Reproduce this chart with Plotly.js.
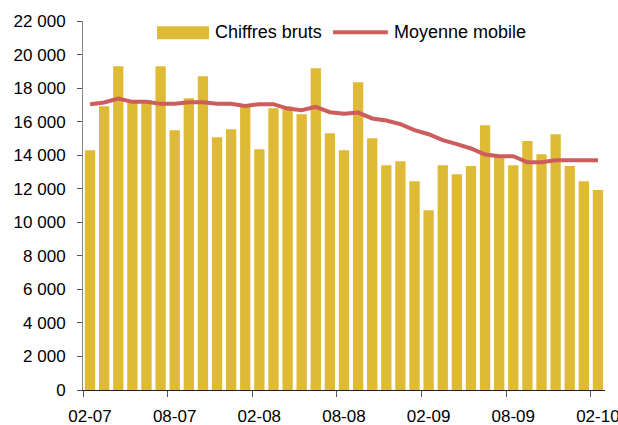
<!DOCTYPE html>
<html>
<head>
<meta charset="utf-8">
<script src="https://cdn.plot.ly/plotly-3.0.1.min.js"></script>
<style>
html,body{margin:0;padding:0;background:#fff;}
#chart{width:618px;height:425px;}
</style>
</head>
<body>
<div id="chart"></div>
<script>
var months = ["02-07","03-07","04-07","05-07","06-07","07-07","08-07","09-07","10-07","11-07","12-07","01-08",
              "02-08","03-08","04-08","05-08","06-08","07-08","08-08","09-08","10-08","11-08","12-08","01-09",
              "02-09","03-09","04-09","05-09","06-09","07-09","08-09","09-09","10-09","11-09","12-09","01-10","02-10"];
var chiffresBruts = [14300,16920,19300,17280,17280,19300,15490,17400,18710,15070,
                     15550,16920,14360,16800,16920,16440,19180,15310,14300,18350,
                     15010,13400,13640,12450,10720,13400,12870,13350,15790,13900,
                     13400,14840,14060,15250,13350,12450,11920];
var moyenneMobile = [17040,17140,17380,17180,17180,17060,17060,17160,17160,17060,
                     17060,16940,17040,17040,16780,16680,16880,16560,16470,16540,
                     16190,16070,15850,15490,15250,14900,14660,14400,14040,13940,
                     13940,13580,13580,13700,13700,13700,13700];
var xTickLabels = ["02-07","08-07","02-08","08-08","02-09","08-09","02-10"];
var yTickVals = [0,2000,4000,6000,8000,10000,12000,14000,16000,18000,20000,22000];
var yTickText = ["0","2 000","4 000","6 000","8 000","10 000","12 000","14 000","16 000","18 000","20 000","22 000"];
var seriesNames = ["Chiffres bruts","Moyenne mobile"];

var idx = months.map(function(m,i){return i;});
var xTickVals = xTickLabels.map(function(l){return months.indexOf(l) - 0.5;});

var barColor = "#DFBA35";
var lineColor = "#CD5C5C";
var font = "Liberation Sans, Arial, sans-serif";

var traces = [
  {type:"bar", x:idx, y:chiffresBruts, name:seriesNames[0], marker:{color:barColor, line:{width:0}}, hoverinfo:"skip"},
  {type:"scatter", mode:"lines", x:idx, y:moyenneMobile, name:seriesNames[1], line:{color:lineColor, width:4}, hoverinfo:"skip"}
];

var layout = {
  width:618, height:425,
  margin:{l:83, r:13, t:21, b:35},
  paper_bgcolor:"#fff", plot_bgcolor:"#fff",
  showlegend:false,
  bargap:0.27,
  font:{family:font, size:17, color:"#000"},
  xaxis:{
    type:"linear", range:[-0.5, months.length-0.5], fixedrange:true,
    tickmode:"array", tickvals:xTickVals, ticktext:xTickLabels,
    ticklabelshift:7, ticklabelstandoff:5, ticklabeloverflow:"allow",
    ticks:"outside", ticklen:6, tickcolor:"#555", tickwidth:1,
    showline:true, linecolor:"#222", linewidth:1,
    showgrid:false, zeroline:false,
    tickfont:{family:font, size:17, color:"#000"}
  },
  yaxis:{
    range:[0,22000], fixedrange:true,
    tickmode:"array", tickvals:yTickVals, ticktext:yTickText,
    ticks:"outside", ticklen:5, tickcolor:"#555", tickwidth:1,
    ticklabelstandoff:8,
    showline:true, linecolor:"#888", linewidth:1,
    showgrid:false, zeroline:false,
    tickfont:{family:font, size:17, color:"#000"}
  },
  shapes:[
    {type:"rect", xref:"paper", yref:"paper", x0:0.1418, x1:0.2414, y0:0.9505, y1:0.9857, fillcolor:barColor, line:{width:0}},
    {type:"line", xref:"paper", yref:"paper", x0:0.479, x1:0.584, y0:0.9694, y1:0.9694, line:{color:lineColor, width:4}}
  ],
  annotations:[
    {xref:"paper", yref:"paper", x:0.249, y:0.9694, xanchor:"left", yanchor:"middle", text:seriesNames[0], showarrow:false, font:{family:font, size:18, color:"#000"}},
    {xref:"paper", yref:"paper", x:0.592, y:0.9694, xanchor:"left", yanchor:"middle", text:seriesNames[1], showarrow:false, font:{family:font, size:18, color:"#000"}}
  ]
};

Plotly.newPlot("chart", traces, layout, {displayModeBar:false, staticPlot:true});
</script>
</body>
</html>
